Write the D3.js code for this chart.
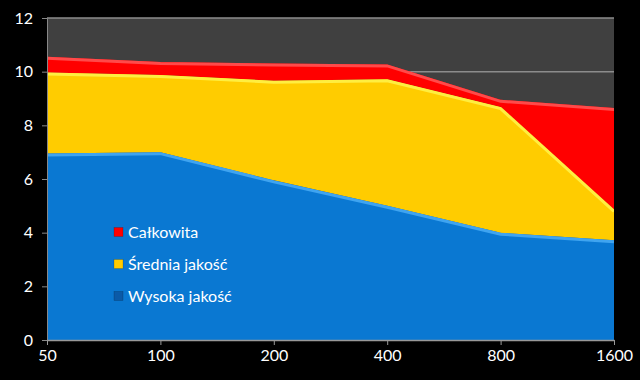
<!DOCTYPE html>
<html><head><meta charset="utf-8">
<script src="https://cdn.jsdelivr.net/npm/d3@7"></script>
<style>body{margin:0;background:#000}svg{display:block}text{font-family:Lato,"Open Sans",sans-serif}</style>
</head><body>
<svg id="c" width="640" height="380"></svg>
<script>
const categories = ["50","100","200","400","800","1600"];
const wysoka = [6.95, 7.0, 5.95, 5.0, 4.0, 3.72];
const sredniaTop = [9.97, 9.88, 9.66, 9.72, 8.68, 4.85];
const calkowitaTop = [10.56, 10.36, 10.3, 10.27, 8.95, 8.65];
const yTicks = [0,2,4,6,8,10,12];
const seriesNames = ["Wysoka jakość","Średnia jakość","Całkowita"];

const rows = categories.map((c,i)=>({cat:c, w:wysoka[i], s:sredniaTop[i]-wysoka[i], c:calkowitaTop[i]-sredniaTop[i]}));
const stack = d3.stack().keys(["w","s","c"])(rows);

const svg = d3.select("#c");
const L=47, R=614, T=18, B=340;
const x = d3.scalePoint().domain(categories).range([L,R]);
const y = d3.scaleLinear().domain([0,12]).range([B,T]);

svg.append("defs").append("clipPath").attr("id","pc").append("rect")
  .attr("x",L).attr("y",T).attr("width",R-L).attr("height",B-T);

svg.append("rect").attr("x",L).attr("y",T).attr("width",R-L).attr("height",B-T).attr("fill","#404040");
svg.append("g").selectAll("line").data(yTicks.filter(d=>d>0)).join("line")
  .attr("x1",L).attr("x2",R).attr("y1",d=>y(d)).attr("y2",d=>y(d)).attr("stroke","#8c8c8c").attr("stroke-width",1.5);

const fills=["#0a78d2","#ffcc00","#ff0000"];
const edges=["#3fa4f0","#ffee40","#ff4a4a"];
const area = d3.area().x(d=>x(d.data.cat)).y0(d=>y(d[0])).y1(d=>y(d[1]));
const topLine = d3.line().x(d=>x(d.data.cat)).y(d=>y(d[1]));
const g = svg.append("g").attr("clip-path","url(#pc)");
stack.forEach((s,i)=>{
  g.append("path").attr("d",area(s)).attr("fill",fills[i]);
});
stack.forEach((s,i)=>{
  g.append("path").attr("d",topLine(s)).attr("fill","none").attr("stroke",edges[i]).attr("stroke-width",3).attr("transform","translate(0,1.5)");
});

// axes
const ya = svg.append("g").attr("transform",`translate(${L},0)`)
  .call(d3.axisLeft(y).tickValues(yTicks).tickSize(5).tickPadding(9).tickFormat(d3.format("d")));
ya.select(".domain").attr("stroke","#888");
ya.selectAll(".tick line").attr("stroke","#888");
ya.selectAll("text").attr("fill","#fff").attr("font-size",16);

const xa = svg.append("g").attr("transform",`translate(0,${B})`)
  .call(d3.axisBottom(x).tickSize(5).tickPadding(5).tickSizeOuter(0));
xa.select(".domain").attr("stroke","#999").attr("stroke-width",1.5);
xa.selectAll(".tick line").attr("stroke","#999");
xa.selectAll("text").attr("fill","#fff").attr("font-size",16);

// legend
const legend = [{n:seriesNames[2],c:fills[2]},{n:seriesNames[1],c:fills[1]},{n:seriesNames[0],c:"#0a5aa8"}];
const lg = svg.append("g");
legend.forEach((d,i)=>{
  const yy = 232 + i*32;
  lg.append("rect").attr("x",114).attr("y",yy-4.5).attr("width",9).attr("height",9).attr("fill",d.c).attr("stroke","#00000055").attr("stroke-width",0.5);
  lg.append("text").attr("x",128).attr("y",yy).attr("dy","0.35em").attr("fill","#fff").attr("font-size",16).text(d.n);
});
</script>
</body></html>
